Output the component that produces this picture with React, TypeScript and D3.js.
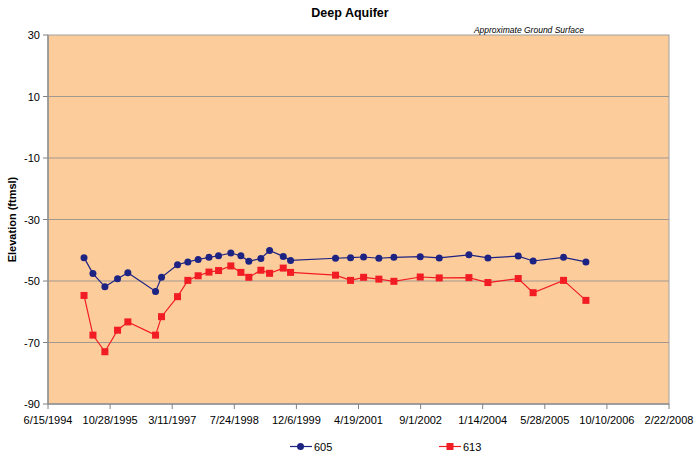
import React from "react";
import * as d3 from "d3";

const dates605: string[] = [
  "1995-04-01", "1995-06-12", "1995-09-16", "1995-12-27", "1996-03-19",
  "1996-10-28", "1996-12-15", "1997-04-23", "1997-07-15", "1997-10-06",
  "1998-01-01", "1998-03-19", "1998-06-26", "1998-09-15", "1998-11-18",
  "1999-02-23", "1999-05-04", "1999-08-22", "1999-10-20", "2000-10-16",
  "2001-02-14", "2001-05-30", "2001-09-30", "2002-01-29", "2002-08-29",
  "2003-01-29", "2003-09-25", "2004-02-25", "2004-10-26", "2005-02-23",
  "2005-10-26", "2006-04-24",
];
const values605: number[] = [
  -42.4, -47.6, -51.9, -49.3, -47.3, -53.4, -48.8, -44.7, -43.8, -43.0,
  -42.3, -41.8, -40.9, -41.8, -43.6, -42.7, -40.1, -42.0, -43.3, -42.6,
  -42.4, -42.2, -42.6, -42.3, -42.1, -42.5, -41.5, -42.5, -41.9, -43.5,
  -42.3, -43.8,
];
const dates613: string[] = dates605;
const values613: number[] = [
  -54.7, -67.6, -73.0, -66.0, -63.3, -67.6, -61.6, -55.1, -49.8, -48.3,
  -47.1, -46.6, -45.1, -47.2, -48.8, -46.5, -47.5, -45.8, -47.2, -48.1,
  -49.8, -48.8, -49.4, -50.1, -48.7, -49.0, -48.9, -50.5, -49.2, -53.8,
  -49.8, -56.3,
];
const xTickLabels: string[] = [
  "6/15/1994", "10/28/1995", "3/11/1997", "7/24/1998", "12/6/1999", "4/19/2001",
  "9/1/2002", "1/14/2004", "5/28/2005", "10/10/2006", "2/22/2008",
];
const yTicks: number[] = [30, 10, -10, -30, -50, -70, -90];

const W = 696, H = 456;
const M = { left: 48, right: 669, top: 35, bottom: 404 };
const parse = d3.timeParse("%Y-%m-%d");
const parseTick = d3.timeParse("%m/%d/%Y");

export default function App() {
  const tickDates = xTickLabels.map((s) => parseTick(s) as Date);
  const x = d3.scaleTime()
    .domain([tickDates[0], tickDates[tickDates.length - 1]])
    .range([M.left, M.right]);
  const y = d3.scaleLinear().domain([-90, 30]).range([M.bottom, M.top]);
  const font = "Arial, 'Liberation Sans', Helvetica, sans-serif";

  const s605 = dates605.map((d, i) => ({ d: parse(d) as Date, v: values605[i] }));
  const s613 = dates613.map((d, i) => ({ d: parse(d) as Date, v: values613[i] }));
  const line = d3.line<{ d: Date; v: number }>().x((p) => x(p.d)).y((p) => y(p.v));

  const blue = "#1c2383";
  const red = "#f21c24";

  return (
    <svg width={W} height={H} style={{ position: "absolute", left: 0, top: 0 }} fontFamily={font}>
      <rect x={0} y={0} width={W} height={H} fill="#ffffff" />
      <text x={350} y={17} textAnchor="middle" fontSize={12.5} fontWeight="bold">Deep Aquifer</text>
      <rect x={M.left} y={M.top} width={M.right - M.left} height={M.bottom - M.top} fill="#fdcc9b" stroke="#a0a0a0" strokeWidth={1} />
      {yTicks.map((t) => (
        <g key={t}>
          {t !== 30 && t !== -90 && (
            <line x1={M.left} x2={M.right} y1={y(t)} y2={y(t)} stroke="#a29890" strokeWidth={1} />
          )}
          <line x1={M.left - 5} x2={M.left} y1={y(t)} y2={y(t)} stroke="#808080" />
          <text x={M.left - 8} y={y(t) + 4} textAnchor="end" fontSize={11}>{t}</text>
        </g>
      ))}
      <line x1={M.left} x2={M.left} y1={M.top} y2={M.bottom} stroke="#909090" strokeWidth={1.5} />
      <line x1={M.left} x2={M.right} y1={M.bottom} y2={M.bottom} stroke="#909090" strokeWidth={1.5} />
      {tickDates.map((t, i) => (
        <g key={i}>
          <line x1={x(t)} x2={x(t)} y1={M.bottom} y2={M.bottom + 5} stroke="#808080" />
          <text x={x(t)} y={M.bottom + 20} textAnchor="middle" fontSize={11}>{xTickLabels[i]}</text>
        </g>
      ))}
      <text transform={`translate(16,${(M.top + M.bottom) / 2}) rotate(-90)`} textAnchor="middle" fontSize={11} fontWeight="bold">Elevation (ftmsl)</text>
      <text x={584} y={33} textAnchor="end" fontSize={8.5} fontStyle="italic">Approximate Ground Surface</text>

      <path d={line(s613) || ""} fill="none" stroke={red} strokeWidth={1.2} />
      {s613.map((p, i) => (
        <rect key={i} x={x(p.d) - 3.5} y={y(p.v) - 3.5} width={7} height={7} fill={red} />
      ))}
      <path d={line(s605) || ""} fill="none" stroke={blue} strokeWidth={1.2} />
      {s605.map((p, i) => (
        <circle key={i} cx={x(p.d)} cy={y(p.v)} r={3.5} fill={blue} />
      ))}

      <g>
        <line x1={290} x2={312} y1={446.5} y2={446.5} stroke={blue} strokeWidth={1.2} />
        <circle cx={300.5} cy={446.5} r={3.5} fill={blue} />
        <text x={314} y={450.5} fontSize={11}>605</text>
        <line x1={439} x2={461} y1={446.5} y2={446.5} stroke={red} strokeWidth={1.2} />
        <rect x={446.5} y={443} width={7} height={7} fill={red} />
        <text x={463} y={450.5} fontSize={11}>613</text>
      </g>
    </svg>
  );
}
